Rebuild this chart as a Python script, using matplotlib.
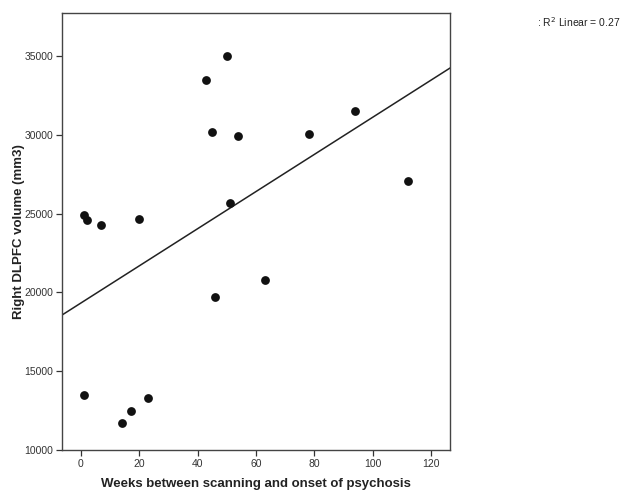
import matplotlib
matplotlib.use("Agg")
import matplotlib.pyplot as plt
import numpy as np

weeks = [1, 2, 7, 20, 43, 50, 45, 54, 51, 78, 94, 112, 46, 63, 1, 14, 17, 23]
volume = [24900, 24600, 24300, 24650, 33500, 35000, 30200, 29950, 25650, 30050,
          31500, 27100, 19700, 20800, 13500, 11700, 12500, 13300]
xticks = [0, 20, 40, 60, 80, 100, 120]
yticks = [10000, 15000, 20000, 25000, 30000, 35000]
r2_label = "R$^2$ Linear = 0.27"

plt.rcParams['font.family'] = ['Liberation Sans', 'DejaVu Sans']

fig = plt.figure(figsize=(6.23, 4.94), dpi=100)
ax = fig.add_axes([62/623, 44/494, 388/623, 437/494])

ax.scatter(weeks, volume, s=40, color='#111111', zorder=3, linewidths=0)
slope, intercept = np.polyfit(weeks, volume, 1)
xl = np.array([-6.5, 126.5])
ax.plot(xl, slope * xl + intercept, color='#222222', lw=1.1)

ax.set_xlim(-6.5, 126.5)
ax.set_ylim(10000, 37730)
ax.set_xticks(xticks)
ax.set_yticks(yticks)
ax.tick_params(direction='out', length=4.5, width=0.9, color='#333333',
               labelsize=7.5, labelcolor='#333333', pad=2)
for s in ax.spines.values():
    s.set_color('#444444')
    s.set_linewidth(1.0)

ax.set_xlabel("Weeks between scanning and onset of psychosis", fontsize=9.5,
              fontweight='bold', color='#222222')
ax.set_ylabel("Right DLPFC volume (mm3)", fontsize=9.5, fontweight='bold',
              color='#222222')
ax.xaxis.set_label_coords(0.5, (450 - 478) / 437)
ax.yaxis.set_label_coords((25 - 62) / 388, 0.5)

fig.text(537/623, 1 - 22/494, ": " + r2_label, fontsize=7.5, color='#222222',
         va='center', ha='left')

fig.savefig("out.png", dpi=100, facecolor='white')
